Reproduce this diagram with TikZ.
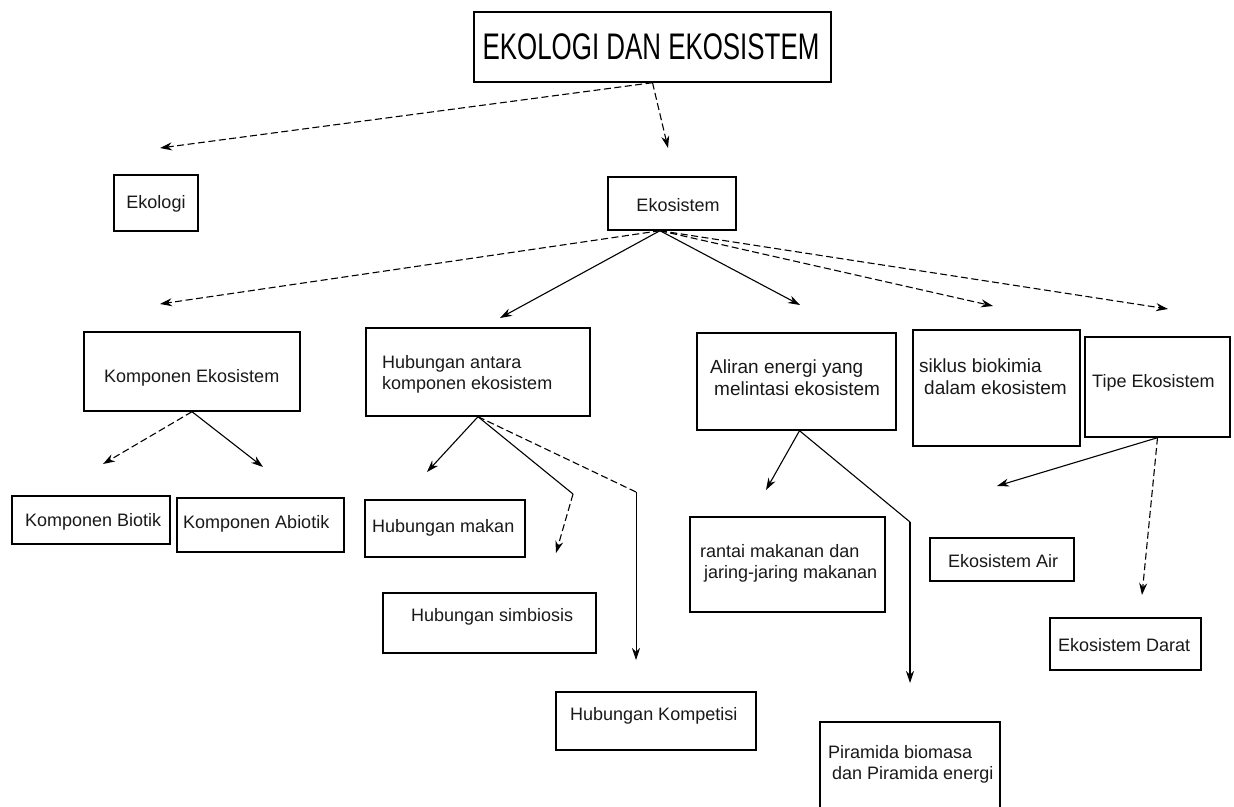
\documentclass[tikz,border=0pt]{standalone}
\usepackage{fontspec}
\setmainfont{Liberation Sans}
\newfontfamily\titlefont[FakeStretch=0.7]{Liberation Sans}
\usetikzlibrary{arrows.meta}
\begin{document}
\begin{tikzpicture}[x=1pt,y=-1pt,
  box/.style={draw=black, line width=1.4pt, inner sep=0pt},
  lbl/.style={inner sep=0pt, font=\fontsize{18}{21}\selectfont, align=left, text=black!90},
  lblb/.style={lbl, font=\fontsize{19}{22}\selectfont},
  arr/.style={line width=1.1pt, -{Stealth[length=12pt,width=8pt]}},
  seg/.style={line width=1.1pt},
  dsh/.style={dash pattern=on 7pt off 3.5pt}]
\useasboundingbox (0,0) rectangle (1234,806);
\clip (0,0) rectangle (1234,806);
\fill[white] (0,0) rectangle (1234,806);

% boxes
\node[box, minimum width=357pt, minimum height=70pt] (title) at (652.5,47) {};
\node[box, minimum width=84pt, minimum height=56pt] (ekologi) at (156,203) {};
\node[box, minimum width=128pt, minimum height=53pt] (ekosistem) at (672,203.5) {};
\node[box, minimum width=216pt, minimum height=79pt] (komp) at (192,371.5) {};
\node[box, minimum width=224pt, minimum height=88pt] (hub) at (478,372) {};
\node[box, minimum width=199pt, minimum height=97pt] (aliran) at (796.5,381.5) {};
\node[box, minimum width=167pt, minimum height=116pt] (siklus) at (996.5,388) {};
\node[box, minimum width=145pt, minimum height=100pt] (tipe) at (1157.5,387) {};
\node[box, minimum width=158pt, minimum height=48pt] (biotik) at (91,520) {};
\node[box, minimum width=167pt, minimum height=54pt] (abiotik) at (260.5,525) {};
\node[box, minimum width=160pt, minimum height=57pt] (makan) at (445,528.5) {};
\node[box, minimum width=213pt, minimum height=60pt] (simb) at (489.5,623) {};
\node[box, minimum width=200pt, minimum height=58pt] (kompet) at (656,721) {};
\node[box, minimum width=195pt, minimum height=95pt] (rantai) at (787.5,564.5) {};
\node[box, minimum width=180pt, minimum height=90pt] (piramida) at (910,767) {};
\node[box, minimum width=144pt, minimum height=43pt] (air) at (1002,559.5) {};
\node[box, minimum width=151pt, minimum height=52pt] (darat) at (1125.5,644) {};

% texts
\node[inner sep=0pt, font=\titlefont\fontsize{37}{40}\selectfont] (title-t) at (651,47) {EKOLOGI DAN EKOSISTEM};
\node[lbl] (ekologi-t) at (156,204) {Ekologi};
\node[lbl] (ekosistem-t) at (678,205) {Ekosistem};
\node[lbl, anchor=west] (komp-t) at (104,378) {Komponen Ekosistem};
\node[lbl, anchor=west] (hub-t) at (382,374) {Hubungan antara\\komponen ekosistem};
\node[lblb, anchor=west] (aliran-t) at (710,378) {Aliran energi yang\\\hspace{4pt}melintasi ekosistem};
\node[lblb, anchor=west] (siklus-t) at (919,377) {siklus biokimia\\\hspace{5pt}dalam ekosistem};
\node[lbl, anchor=west] (tipe-t) at (1092,383) {Tipe Ekosistem};
\node[lbl, anchor=west] (biotik-t) at (25,522) {Komponen Biotik};
\node[lbl, anchor=west] (abiotik-t) at (183,524) {Komponen Abiotik};
\node[lbl, anchor=west] (makan-t) at (372,528) {Hubungan makan};
\node[lbl, anchor=west] (simb-t) at (411,617) {Hubungan simbiosis};
\node[lbl, anchor=west] (kompet-t) at (570,716) {Hubungan Kompetisi};
\node[lbl, anchor=west] (rantai-t) at (700,563) {rantai makanan dan\\\hspace{4pt}jaring-jaring makanan};
\node[lbl, anchor=west] (piramida-t) at (828,764) {Piramida biomasa\\\hspace{4pt}dan Piramida energi};
\node[lbl, anchor=west] (air-t) at (948,561) {Ekosistem Air};
\node[lbl, anchor=west] (darat-t) at (1058,645) {Ekosistem Darat};

% free ends and bends
\coordinate (e1) at (160,148);
\coordinate (e2) at (668,148);
\coordinate (k1) at (160,304);
\coordinate (k2) at (500,318);
\coordinate (k3) at (800,305);
\coordinate (k4) at (993,306);
\coordinate (k5) at (1168,309);
\coordinate (b1) at (103,464);
\coordinate (b2) at (263,467);
\coordinate (h1) at (427,472);
\coordinate (h2b) at (573,494);
\coordinate (h2) at (556,553);
\coordinate (h3b) at (636,492);
\coordinate (h3) at (636,660);
\coordinate (a1) at (766,490);
\coordinate (a2b) at (910,522);
\coordinate (a2) at (910,683);
\coordinate (t1) at (997,486);
\coordinate (t2) at (1142,595);

% connectors
\draw[arr, dsh] (title.south) -- (e1);
\draw[arr, dsh] (title.south) -- (e2);
\draw[arr, dsh] ([xshift=-12pt]ekosistem.south) -- (k1);
\draw[arr] ([xshift=-12pt]ekosistem.south) -- (k2);
\draw[arr] ([xshift=-12pt]ekosistem.south) -- (k3);
\draw[arr, dsh] ([xshift=-12pt]ekosistem.south) -- (k4);
\draw[arr, dsh] ([xshift=-12pt]ekosistem.south) -- (k5);
\draw[arr, dsh] (komp.south) -- (b1);
\draw[arr] (komp.south) -- (b2);
\draw[arr] (hub.south) -- (h1);
\draw[seg] (hub.south) -- (h2b);
\draw[arr, dsh] (h2b) -- (h2);
\draw[seg, dsh] (hub.south) -- (h3b);
\draw[arr, line width=0.8pt] (h3b) -- (h3);
\draw[arr] ([xshift=3pt]aliran.south) -- (a1);
\draw[seg] ([xshift=3pt]aliran.south) -- (a2b);
\draw[arr] (a2b) -- (a2);
\draw[arr] (tipe.south) -- (t1);
\draw[arr, dsh] (tipe.south) -- (t2);
\end{tikzpicture}
\end{document}
